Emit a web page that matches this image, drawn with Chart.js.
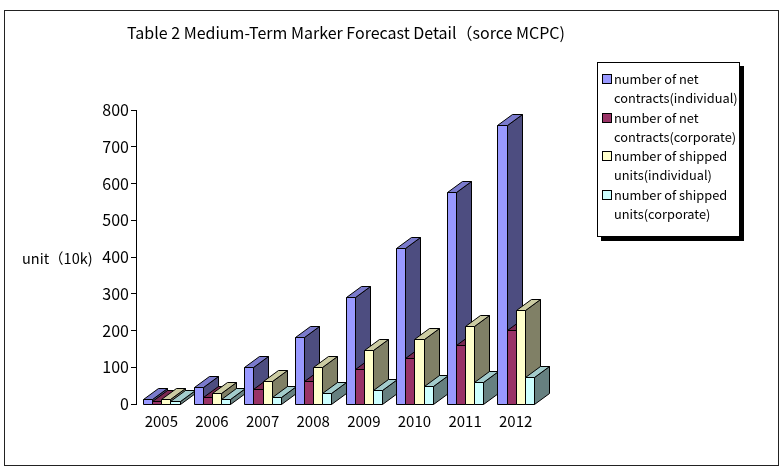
<!DOCTYPE html>
<html>
<head>
<meta charset="utf-8">
<script src="https://cdn.jsdelivr.net/npm/chart.js@4/dist/chart.umd.min.js"></script>
<style>
  html, body { margin: 0; padding: 0; background: #fff; }
  body { width: 782px; height: 470px; position: relative; overflow: hidden;
         font-family: "Noto Sans CJK JP", "DejaVu Sans", sans-serif; color: #000; }
  #frame { position: absolute; left: 4px; top: 10px; width: 775px; height: 456px;
           border: 1px solid #222; box-sizing: border-box; }
  #chart { position: absolute; left: 0; top: 0; }
  #title { position: absolute; left: 46px; width: 600px; top: 22px; text-align: center;
           font-size: 16px; line-height: 20px; }
  #yLabel { position: absolute; left: 22px; top: 248px; font-size: 14.5px; line-height: 20px; }
  #legend { position: absolute; left: 597px; top: 62px; width: 143px; height: 175px;
            border: 1px solid #000; box-shadow: 4px 4px 0 #000; background: #fff;
            box-sizing: border-box; padding: 6px 0 0 4px; }
  .item { position: relative; padding-left: 12px; font-size: 12.8px; line-height: 19.3px; }
  .swatch { position: absolute; left: 0; top: 5px; width: 8px; height: 8px;
            border: 1px solid #000; box-sizing: content-box; }
</style>
</head>
<body>
<div id="frame"></div>
<canvas id="chart" width="782" height="470"></canvas>
<div id="title">Table 2 Medium-Term Marker Forecast Detail（sorce MCPC)</div>
<div id="yLabel">unit（10k)</div>
<div id="legend"></div>
<script>
  const years = ['2005', '2006', '2007', '2008', '2009', '2010', '2011', '2012'];
  const seriesNames = [
    ['number of net', 'contracts(individual)'],
    ['number of net', 'contracts(corporate)'],
    ['number of shipped', 'units(individual)'],
    ['number of shipped', 'units(corporate)']
  ];
  const netIndividual = [13, 45, 102, 183, 291, 424, 577, 760];
  const netCorporate = [8, 20, 42, 63, 94, 126, 160, 202];
  const shippedIndividual = [13, 31, 63, 102, 147, 176, 213, 255];
  const shippedCorporate = [7, 13, 20, 29, 38, 49, 59, 73];
  const yTicks = [0, 100, 200, 300, 400, 500, 600, 700, 800];

  // front / side / top face colours for each series
  const frontColors = ['#9999ff', '#993366', '#ffffcc', '#ccffff'];
  const sideColors = ['#4d4d80', '#4d1a33', '#808066', '#668080'];
  const topColors = ['#7a7acc', '#7a2952', '#ccccA3', '#a3cccc'];

  const DEPTH_X = 15;
  const DEPTH_Y = -11;

  const seriesValues = [netIndividual, netCorporate, shippedIndividual, shippedCorporate];

  function face(ctx, pts, fill) {
    ctx.beginPath();
    ctx.moveTo(pts[0][0], pts[0][1]);
    for (let k = 1; k < pts.length; k++) ctx.lineTo(pts[k][0], pts[k][1]);
    ctx.closePath();
    ctx.fillStyle = fill;
    ctx.fill();
    ctx.stroke();
  }

  // draws each bar as a box: side and top first, then the front face
  const bars3d = {
    id: 'bars3d',
    afterDatasetsDraw(chart) {
      const ctx = chart.ctx;
      const metas = chart.data.datasets.map((_, i) => chart.getDatasetMeta(i));
      ctx.save();
      ctx.strokeStyle = '#000';
      ctx.lineWidth = 1;
      ctx.lineJoin = 'miter';
      for (let i = 0; i < chart.data.labels.length; i++) {
        metas.forEach((meta, d) => {
          const bar = meta.data[i];
          const p = bar.getProps(['x', 'y', 'base', 'width'], true);
          const x0 = Math.round(p.x - p.width / 2) + 0.5;
          const x1 = Math.round(p.x + p.width / 2) + 0.5;
          const top = Math.round(p.y) + 0.5;
          const base = Math.round(p.base) + 0.5;
          face(ctx, [[x1, top], [x1 + DEPTH_X, top + DEPTH_Y], [x1 + DEPTH_X, base + DEPTH_Y], [x1, base]], sideColors[d]);
          face(ctx, [[x0, top], [x1, top], [x1 + DEPTH_X, top + DEPTH_Y], [x0 + DEPTH_X, top + DEPTH_Y]], topColors[d]);
          face(ctx, [[x0, top], [x1, top], [x1, base], [x0, base]], frontColors[d]);
        });
      }
      ctx.restore();
    }
  };

  const chart = new Chart(document.getElementById('chart'), {
    type: 'bar',
    data: {
      labels: years,
      datasets: seriesValues.map((values, d) => ({
        label: seriesNames[d].join(' '),
        data: values,
        backgroundColor: 'rgba(0,0,0,0)',
        borderWidth: 0,
        categoryPercentage: 0.72,
        barPercentage: 1.0
      }))
    },
    options: {
      responsive: false,
      animation: false,
      layout: { padding: { left: 96, top: 110, right: 241, bottom: 30 } },
      plugins: {
        legend: { display: false },
        title: { display: false },
        tooltip: { enabled: false }
      },
      scales: {
        x: {
          grid: { display: false },
          border: { display: false },
          ticks: {
            color: '#000',
            padding: 0,
            font: { family: '"Noto Sans CJK JP", sans-serif', size: 15 }
          },
          afterFit: (s) => { s.height = 36; }
        },
        y: {
          min: yTicks[0],
          max: yTicks[yTicks.length - 1],
          afterBuildTicks: (s) => { s.ticks = yTicks.map(v => ({ value: v })); },
          grid: { drawOnChartArea: false, color: '#000', tickLength: 5 },
          border: { display: true, color: '#000', width: 1 },
          ticks: {
            color: '#000',
            padding: 2,
            font: { family: '"Noto Sans CJK JP", sans-serif', size: 16 }
          },
          afterFit: (s) => { s.width = 40; }
        }
      }
    },
    plugins: [bars3d]
  });

  // legend built from the chart's datasets
  const legendEl = document.getElementById('legend');
  chart.data.datasets.forEach((ds, d) => {
    const item = document.createElement('div');
    item.className = 'item';
    const sw = document.createElement('span');
    sw.className = 'swatch';
    sw.style.background = frontColors[d];
    item.appendChild(sw);
    seriesNames[d].forEach((line) => {
      const l = document.createElement('div');
      l.textContent = line;
      item.appendChild(l);
    });
    legendEl.appendChild(item);
  });
</script>
</body>
</html>
